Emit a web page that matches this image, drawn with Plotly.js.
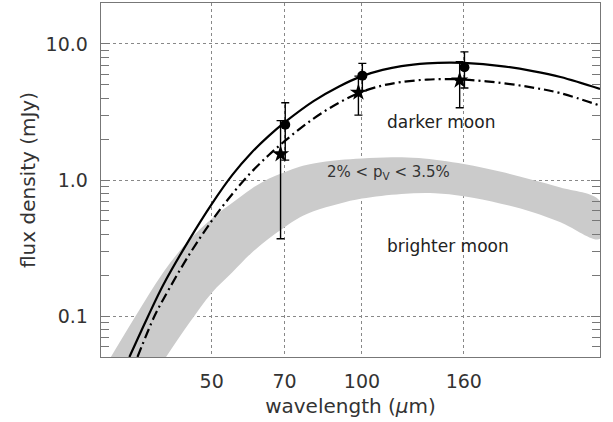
<!DOCTYPE html>
<html>
<head>
<meta charset="utf-8">
<script src="https://cdn.plot.ly/plotly-3.0.1.min.js"></script>
<style>html,body{margin:0;padding:0;background:#fff;}#chart{width:613px;height:422px;}</style>
</head>
<body>
<div id="chart"></div>
<script>
// Observed flux densities (mJy)
const circleWave = [70.2, 100.2, 160.5];
const circleFlux = [2.55, 5.85, 6.75];
const circleErr = [1.15, 1.35, 2.0];
const starWave = [68.7, 98.4, 157];
const starFlux = [1.55, 4.4, 5.4];
const starErr = [1.18, 1.4, 2.0];

// Model curves
const solidWave = [34.2, 37.2, 40, 45, 50, 55, 60, 65, 70, 80, 90, 100, 110, 120, 135, 150, 160, 190, 220, 250, 300];
const solidFlux = [0.05, 0.098, 0.17, 0.36, 0.665, 1.09, 1.58, 2.1, 2.65, 3.8, 4.87, 5.8, 6.45, 6.88, 7.2, 7.3, 7.26, 6.88, 6.32, 5.72, 4.67];
const dashWave = [35.5, 38.4, 40, 45, 50, 55, 60, 65, 70, 80, 90, 100, 110, 120, 135, 150, 160, 190, 220, 250, 300];
const dashFlux = [0.05, 0.1, 0.133, 0.28, 0.5, 0.79, 1.14, 1.52, 1.93, 2.83, 3.7, 4.45, 4.95, 5.25, 5.47, 5.52, 5.48, 5.17, 4.78, 4.35, 3.52];

// Albedo band 2% < pV < 3.5%
const bandUpWave = [31.4, 35.2, 40, 45, 50, 55, 60, 65, 70, 75, 80, 90, 100, 115, 130, 160, 190, 220, 250, 300];
const bandUpper = [0.05, 0.1, 0.21, 0.36, 0.52, 0.68, 0.86, 1.02, 1.14, 1.25, 1.32, 1.40, 1.44, 1.47, 1.45, 1.31, 1.15, 1.0, 0.88, 0.70];
const bandLowWave = [40.5, 45, 50, 55, 60, 65, 70, 75, 80, 90, 100, 120, 140, 160, 190, 220, 250, 300];
const bandLower = [0.05, 0.088, 0.148, 0.21, 0.29, 0.37, 0.45, 0.53, 0.59, 0.67, 0.73, 0.79, 0.80, 0.76, 0.67, 0.58, 0.49, 0.37];

const xTicks = [50, 70, 100, 160];
const yTicks = [0.1, 1, 10];
const yTickText = ['0.1', '1.0', '10.0'];
const yMinor = [0.06,0.07,0.08,0.09,0.2,0.3,0.4,0.5,0.6,0.7,0.8,0.9,2,3,4,5,6,7,8,9];

const bandX = bandUpWave.concat(bandLowWave.slice().reverse());
const bandY = bandUpper.concat(bandLower.slice().reverse());

const font = 'DejaVu Sans, sans-serif';
const txt = '#333';
const traces = [
  {x: bandX, y: bandY, type: 'scatter', mode: 'lines', fill: 'toself',
   fillcolor: '#cbcbcb', line: {width: 0, color: '#cbcbcb', shape: 'spline', smoothing: 1}, hoverinfo: 'skip'},
  {x: solidWave, y: solidFlux, type: 'scatter', mode: 'lines', line: {color: '#000', width: 2.2, shape: 'spline', smoothing: 1}},
  {x: dashWave, y: dashFlux, type: 'scatter', mode: 'lines', line: {color: '#000', width: 2.2, dash: '10px,4px,2px,4px', shape: 'spline', smoothing: 1}},
  {x: starWave, y: starFlux, type: 'scatter', mode: 'markers',
   marker: {symbol: 'star', size: 13, color: '#000'},
   error_y: {type: 'data', array: starErr, color: '#000', thickness: 1.4, width: 4}},
  {x: circleWave, y: circleFlux, type: 'scatter', mode: 'markers',
   marker: {symbol: 'circle', size: 10, color: '#000'},
   error_y: {type: 'data', array: circleErr, color: '#000', thickness: 1.4, width: 4}}
];

const layout = {
  width: 613, height: 422,
  margin: {l: 101, r: 13, t: 3, b: 65},
  paper_bgcolor: '#fff', plot_bgcolor: '#fff',
  showlegend: false,
  font: {family: font, color: txt},
  xaxis: {
    type: 'log', range: [Math.log10(30), Math.log10(300)],
    tickvals: xTicks, ticktext: xTicks.map(String), ticks: '',
    tickfont: {size: 19, color: txt}, ticklabelstandoff: 7,
    showgrid: true, gridcolor: '#888', griddash: 'dot', gridwidth: 1,
    showline: true, linecolor: '#777', linewidth: 1.3, mirror: true, zeroline: false,
    title: {text: 'wavelength (<i>μ</i>m)', font: {size: 20, color: txt}, standoff: 8}
  },
  yaxis: {
    type: 'log', range: [Math.log10(0.05), Math.log10(20)],
    tickvals: yTicks, ticktext: yTickText, ticks: 'inside', ticklen: 9, tickcolor: '#777', tickwidth: 1,
    tickfont: {size: 19, color: txt}, ticklabelstandoff: 8,
    minor: {tickvals: yMinor, ticks: 'inside', ticklen: 8, tickcolor: '#777', tickwidth: 1, showgrid: false},
    showgrid: true, gridcolor: '#888', griddash: 'dot', gridwidth: 1,
    showline: true, linecolor: '#777', linewidth: 1.3, mirror: 'ticks', zeroline: false,
    title: {text: 'flux density (mJy)', font: {size: 20, color: txt}, standoff: 4}
  },
  annotations: [
    {x: Math.log10(143.9), y: Math.log10(2.69), xref: 'x', yref: 'y', text: 'darker moon', showarrow: false,
     font: {size: 17, color: '#222'}},
    {x: Math.log10(113.1), y: Math.log10(1.13), xref: 'x', yref: 'y', text: '2% < p<sub>V</sub> < 3.5%', showarrow: false,
     font: {size: 15, color: '#333'}},
    {x: Math.log10(149), y: Math.log10(0.33), xref: 'x', yref: 'y', text: 'brighter moon', showarrow: false,
     font: {size: 17, color: '#222'}}
  ]
};

Plotly.newPlot('chart', traces, layout, {displayModeBar: false, staticPlot: true});
</script>
</body>
</html>
